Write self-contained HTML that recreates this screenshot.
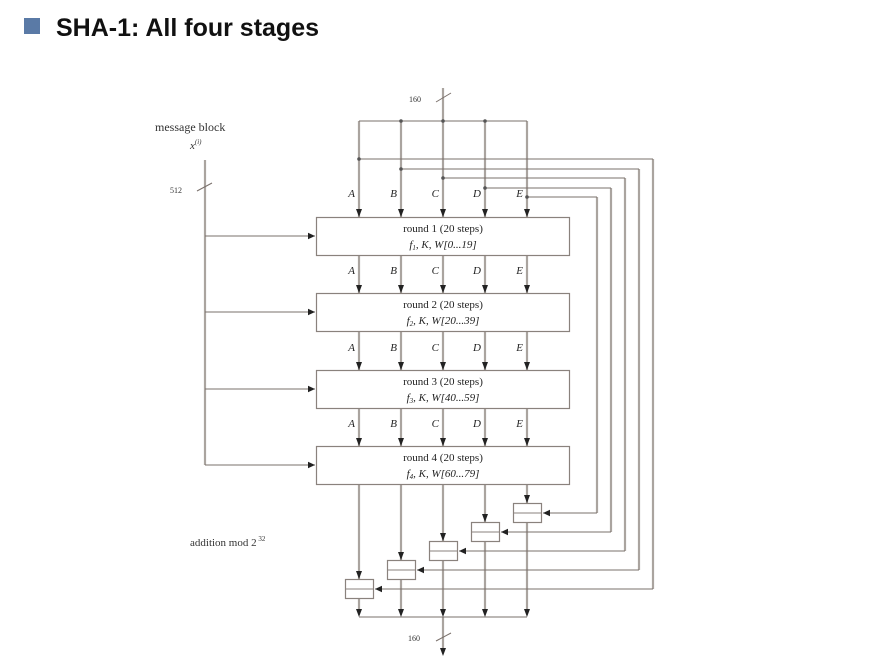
<!DOCTYPE html>
<html><head><meta charset="utf-8"><style>
html,body{margin:0;padding:0;background:#fff;}
body{width:874px;height:662px;overflow:hidden;position:relative;}
</style></head><body>
<svg width="874" height="662" viewBox="0 0 874 662" xmlns="http://www.w3.org/2000/svg" style="position:absolute;left:0;top:0">
<defs>
<marker id="ad" markerWidth="8" markerHeight="8" refX="7" refY="4" orient="auto" markerUnits="userSpaceOnUse">
<path d="M0,0.8 L7,4 L0,7.2 Z" fill="#222"/></marker>
</defs>
<rect x="24" y="18" width="16" height="16" fill="#5a7aa6"/>
<text x="56" y="36" font-family="Liberation Sans, sans-serif" font-weight="bold" font-size="25" fill="#111">SHA-1: All four stages</text>

<g font-family="Liberation Serif, serif" fill="#333">
<text x="155" y="131" font-size="12">message block</text>
<text x="190" y="149" font-size="11" font-style="italic">x<tspan font-size="7" dy="-5">(i)</tspan></text>
<text x="170" y="193" font-size="8">512</text>
<text x="409" y="102" font-size="8">160</text>
<text x="408" y="641" font-size="8">160</text>
<text x="190" y="546" font-size="11">addition mod 2<tspan font-size="7" dy="-5"> 32</tspan></text>
</g>

<g stroke="#aaa49f" stroke-width="2.2" fill="none">
<line x1="443" y1="88" x2="443" y2="121"/>
<line x1="205" y1="160" x2="205" y2="465"/>
<line x1="359" y1="121" x2="359" y2="611"/>
<line x1="401" y1="121" x2="401" y2="611"/>
<line x1="443" y1="121" x2="443" y2="611"/>
<line x1="485" y1="121" x2="485" y2="611"/>
<line x1="527" y1="121" x2="527" y2="611"/>
<line x1="443" y1="617" x2="443" y2="650"/>
<line x1="653" y1="159" x2="653" y2="589"/>
<line x1="639" y1="169" x2="639" y2="570"/>
<line x1="625" y1="178" x2="625" y2="551"/>
<line x1="611" y1="188" x2="611" y2="532"/>
<line x1="597" y1="197" x2="597" y2="513"/>
</g>

<g stroke="#7a706b" stroke-width="1" fill="none">
<line x1="359" y1="121" x2="527" y2="121"/>
<line x1="359" y1="159" x2="653" y2="159"/>
<line x1="401" y1="169" x2="639" y2="169"/>
<line x1="443" y1="178" x2="625" y2="178"/>
<line x1="485" y1="188" x2="611" y2="188"/>
<line x1="527" y1="197" x2="597" y2="197"/>
<line x1="359" y1="617" x2="527" y2="617"/>
<line x1="436" y1="102" x2="451" y2="93"/>
<line x1="197" y1="191" x2="212" y2="183"/>
<line x1="436" y1="641" x2="451" y2="633"/>
<line x1="205" y1="236" x2="315" y2="236" marker-end="url(#ad)"/>
<line x1="205" y1="312" x2="315" y2="312" marker-end="url(#ad)"/>
<line x1="205" y1="389" x2="315" y2="389" marker-end="url(#ad)"/>
<line x1="205" y1="465" x2="315" y2="465" marker-end="url(#ad)"/>
<line x1="597" y1="513" x2="543" y2="513" marker-end="url(#ad)"/>
<line x1="611" y1="532" x2="501" y2="532" marker-end="url(#ad)"/>
<line x1="625" y1="551" x2="459" y2="551" marker-end="url(#ad)"/>
<line x1="639" y1="570" x2="417" y2="570" marker-end="url(#ad)"/>
<line x1="653" y1="589" x2="375" y2="589" marker-end="url(#ad)"/>
</g>

<g fill="#555">
<circle cx="401" cy="121" r="1.8"/><circle cx="443" cy="121" r="1.8"/><circle cx="485" cy="121" r="1.8"/>
<circle cx="359" cy="159" r="1.8"/><circle cx="401" cy="169" r="1.8"/><circle cx="443" cy="178" r="1.8"/>
<circle cx="485" cy="188" r="1.8"/><circle cx="527" cy="197" r="1.8"/>
</g>

<g stroke="#8a827d" stroke-width="1.2" fill="#fff">
<rect x="316.5" y="217.5" width="253" height="38"/>
<rect x="316.5" y="293.5" width="253" height="38"/>
<rect x="316.5" y="370.5" width="253" height="38"/>
<rect x="316.5" y="446.5" width="253" height="38"/>
<rect x="513.5" y="503.5" width="28" height="19"/>
<rect x="471.5" y="522.5" width="28" height="19"/>
<rect x="429.5" y="541.5" width="28" height="19"/>
<rect x="387.5" y="560.5" width="28" height="19"/>
<rect x="345.5" y="579.5" width="28" height="19"/>
</g>
<g stroke="#8a827d" stroke-width="1">
<line x1="513" y1="513" x2="541" y2="513"/>
<line x1="471" y1="532" x2="499" y2="532"/>
<line x1="429" y1="551" x2="457" y2="551"/>
<line x1="387" y1="570" x2="415" y2="570"/>
<line x1="345" y1="589" x2="373" y2="589"/>
</g>

<g fill="#222">
<path d="M356,209 L362,209 L359,217 Z"/><path d="M398,209 L404,209 L401,217 Z"/><path d="M440,209 L446,209 L443,217 Z"/><path d="M482,209 L488,209 L485,217 Z"/><path d="M524,209 L530,209 L527,217 Z"/>
<path d="M356,285 L362,285 L359,293 Z"/><path d="M398,285 L404,285 L401,293 Z"/><path d="M440,285 L446,285 L443,293 Z"/><path d="M482,285 L488,285 L485,293 Z"/><path d="M524,285 L530,285 L527,293 Z"/>
<path d="M356,362 L362,362 L359,370 Z"/><path d="M398,362 L404,362 L401,370 Z"/><path d="M440,362 L446,362 L443,370 Z"/><path d="M482,362 L488,362 L485,370 Z"/><path d="M524,362 L530,362 L527,370 Z"/>
<path d="M356,438 L362,438 L359,446 Z"/><path d="M398,438 L404,438 L401,446 Z"/><path d="M440,438 L446,438 L443,446 Z"/><path d="M482,438 L488,438 L485,446 Z"/><path d="M524,438 L530,438 L527,446 Z"/>
<path d="M524,495 L530,495 L527,503 Z"/><path d="M482,514 L488,514 L485,522 Z"/><path d="M440,533 L446,533 L443,541 Z"/><path d="M398,552 L404,552 L401,560 Z"/><path d="M356,571 L362,571 L359,579 Z"/>
<path d="M356,609 L362,609 L359,617 Z"/><path d="M398,609 L404,609 L401,617 Z"/><path d="M440,609 L446,609 L443,617 Z"/><path d="M482,609 L488,609 L485,617 Z"/><path d="M524,609 L530,609 L527,617 Z"/>
<path d="M440,648 L446,648 L443,656 Z"/>
</g>

<g font-family="Liberation Serif, serif" font-style="italic" font-size="11" fill="#222" text-anchor="end">
<text x="355" y="197">A</text><text x="397" y="197">B</text><text x="439" y="197">C</text><text x="481" y="197">D</text><text x="523" y="197">E</text>
<text x="355" y="274">A</text><text x="397" y="274">B</text><text x="439" y="274">C</text><text x="481" y="274">D</text><text x="523" y="274">E</text>
<text x="355" y="351">A</text><text x="397" y="351">B</text><text x="439" y="351">C</text><text x="481" y="351">D</text><text x="523" y="351">E</text>
<text x="355" y="427">A</text><text x="397" y="427">B</text><text x="439" y="427">C</text><text x="481" y="427">D</text><text x="523" y="427">E</text>
</g>

<g font-family="Liberation Serif, serif" font-size="11" fill="#222" text-anchor="middle">
<text x="443" y="232">round 1 (20 steps)</text>
<text x="443" y="248" font-style="italic">f<tspan font-size="7" dy="2">1</tspan><tspan dy="-2">, K, W[0...19]</tspan></text>
<text x="443" y="308">round 2 (20 steps)</text>
<text x="443" y="324" font-style="italic">f<tspan font-size="7" dy="2">2</tspan><tspan dy="-2">, K, W[20...39]</tspan></text>
<text x="443" y="385">round 3 (20 steps)</text>
<text x="443" y="401" font-style="italic">f<tspan font-size="7" dy="2">3</tspan><tspan dy="-2">, K, W[40...59]</tspan></text>
<text x="443" y="461">round 4 (20 steps)</text>
<text x="443" y="477" font-style="italic">f<tspan font-size="7" dy="2">4</tspan><tspan dy="-2">, K, W[60...79]</tspan></text>
</g>
</svg>
</body></html>
